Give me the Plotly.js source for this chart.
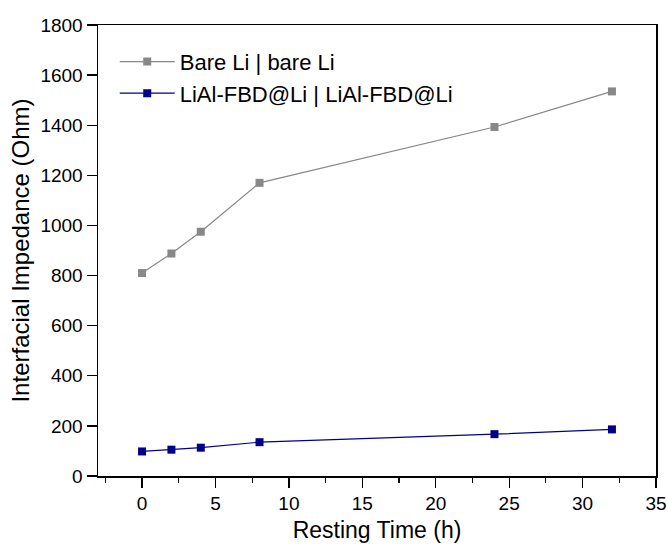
<!DOCTYPE html>
<html><head><meta charset="utf-8">
<script src="https://cdn.plot.ly/plotly-3.0.1.min.js"></script>
<style>body{margin:0;background:#fff}#c{width:668px;height:547px}</style>
</head><body><div id="c"></div>
<script>
const timeH = [0, 2, 4, 8, 24, 32];
const bareLi = [810, 888, 975, 1170, 1393, 1535];
const lialLi = [98, 105, 113, 135, 167, 186];
const names = ["Bare Li | bare Li", "LiAl-FBD@Li | LiAl-FBD@Li"];
const xTicks = [0, 5, 10, 15, 20, 25, 30, 35];
const yTicks = [0, 200, 400, 600, 800, 1000, 1200, 1400, 1600, 1800];

const font = "Liberation Sans, Arial, sans-serif";
const traces = [
  {x: timeH, y: bareLi, name: names[0], mode: "lines+markers", type: "scatter",
   line: {color: "#888888", width: 1.2}, marker: {symbol: "square", size: 8, color: "#888888"}},
  {x: timeH, y: lialLi, name: names[1], mode: "lines+markers", type: "scatter",
   line: {color: "#000088", width: 1.2}, marker: {symbol: "square", size: 8, color: "#000088"}}
];
const axisCommon = {showgrid: false, zeroline: false, showline: true, linecolor: "#000", linewidth: 1.5,
  mirror: true, ticks: "outside", ticklen: 10, tickwidth: 1.3, tickcolor: "#000",
  tickfont: {family: font, size: 19, color: "#000"}};
const layout = {
  width: 668, height: 547, margin: {l: 98, r: 12, t: 25, b: 71},
  paper_bgcolor: "#fff", plot_bgcolor: "#fff",
  font: {family: font, color: "#000"},
  xaxis: Object.assign({}, axisCommon, {range: [-3, 35], tickvals: xTicks, ticktext: xTicks.map(String),
    minor: {dtick: 2.5, tick0: 0, ticks: "outside", ticklen: 5, tickwidth: 1.2, tickcolor: "#000"},
    title: {text: "Resting Time (h)", font: {family: font, size: 23}, standoff: 8}}),
  yaxis: Object.assign({}, axisCommon, {range: [0, 1800], tickvals: yTicks, ticktext: yTicks.map(String),
    title: {text: "Interfacial Impedance (Ohm)", font: {family: font, size: 24}, standoff: 4}}),
  legend: {x: 0.03, y: 0.965, xanchor: "left", yanchor: "top", bgcolor: "rgba(0,0,0,0)",
    font: {family: font, size: 22, color: "#000"}, itemwidth: 55, tracegroupgap: 0},
  showlegend: true
};
Plotly.newPlot("c", traces, layout, {displayModeBar: false, staticPlot: true});
</script></body></html>
